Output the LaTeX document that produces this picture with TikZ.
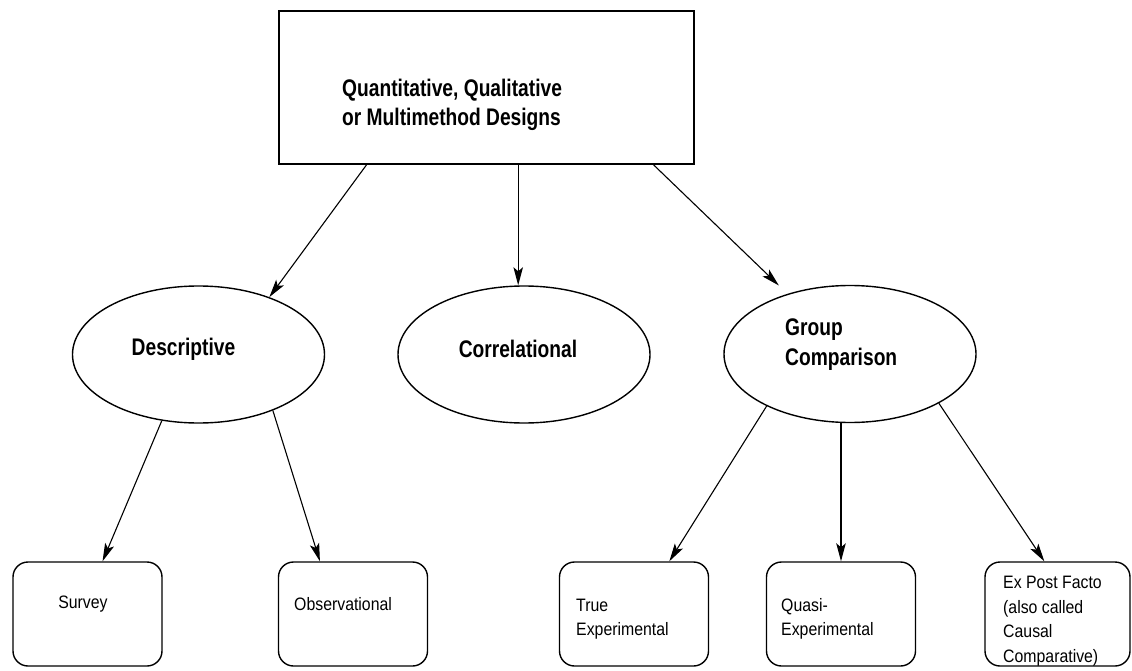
\documentclass[tikz,border=0pt]{standalone}
\usepackage{fontspec}
\setmainfont{Liberation Sans}
\newfontfamily\headfont[FakeStretch=0.8]{Liberation Sans}
\newfontfamily\leaffont[FakeStretch=0.88]{Liberation Sans}
\usetikzlibrary{shapes.geometric,arrows.meta,calc}
\begin{document}
\begin{tikzpicture}[x=1pt,y=-1pt,
  topbox/.style={draw, line width=2pt, minimum width=415pt, minimum height=153pt, inner sep=0pt},
  oval/.style={draw, ellipse, line width=1.4pt, minimum width=252pt, minimum height=137pt, inner sep=0pt},
  leaf/.style={draw, rounded corners=15pt, line width=1.4pt, minimum height=104pt, inner sep=0pt},
  headtxt/.style={font=\headfont\bfseries\fontsize{24}{29}\selectfont, inner sep=0pt, align=left},
  leaftxt/.style={font=\leaffont\fontsize{18}{24.5}\selectfont, inner sep=0pt, align=left},
  arr/.style={-{Stealth[length=18pt,width=9.5pt,inset=4pt]}, line width=1.1pt}]
\useasboundingbox (0,0) rectangle (1132,671);

% top box
\node[topbox] (top) at (486.5,87.5) {};
\node[headtxt, anchor=west] (toptxt) at (342,105) {Quantitative, Qualitative\\or Multimethod Designs};

% ellipses
\node[oval] (desc) at (198.5,354.5) {};
\node[oval] (corr) at (524,354.5) {};
\node[oval] (grp) at (850,354) {};
\node[headtxt] (desctxt) at (183.5,349) {Descriptive};
\node[headtxt] (corrtxt) at (518,349) {Correlational};
\node[headtxt, anchor=west, font=\headfont\bfseries\fontsize{24}{30}\selectfont] (grptxt) at (785,345) {Group\\Comparison};

% leaves
\node[leaf, minimum width=149pt] (survey) at (87.5,614) {};
\node[leaf, minimum width=149pt] (obs) at (353,614) {};
\node[leaf, minimum width=149pt] (true) at (634,614) {};
\node[leaf, minimum width=149pt] (quasi) at (841,614) {};
\node[leaf, minimum width=145pt] (expost) at (1057.5,614) {};

\node[leaftxt] (surveytxt) at (83,604) {Survey};
\node[leaftxt, anchor=west] (obstxt) at (294,604) {Observational};
\node[leaftxt, anchor=west] (truetxt) at (576,619) {True\\Experimental};
\node[leaftxt, anchor=west] (quasitxt) at (781,619) {Quasi-\\Experimental};
\node[leaftxt, anchor=west] (expotxt) at (1003,621) {Ex Post Facto\\(also called\\Causal\\Comparative)};

% connectors from top box
\coordinate (s1) at ($(top.south west)!0.212!(top.south east)$);
\coordinate (s2) at ($(top.south west)!0.576!(top.south east)$);
\coordinate (s3) at ($(top.south west)!0.901!(top.south east)$);
\draw[arr] (s1) -- (desc.39);
\draw[arr] (s2) -- (s2 |- corr.north);
\draw[arr, shorten >=12pt] (s3) -- (grp);

% connectors to leaves
\coordinate (t1) at ($(survey.north west)!0.6!(survey.north east)$);
\coordinate (t2) at ($(obs.north west)!0.28!(obs.north east)$);
\coordinate (t3) at ($(true.north west)!0.735!(true.north east)$);
\coordinate (t5) at ($(expost.north west)!0.41!(expost.north east)$);
\draw[arr] (desc.-119) -- (t1);
\draw[arr] (desc.-37.5) -- (t2);
\draw[arr] (grp.-148) -- (t3);
\draw[arr] (grp.south -| quasi.north) -- (quasi.north);
\draw[arr] (grp.-29.5) -- (t5);
\end{tikzpicture}
\end{document}
